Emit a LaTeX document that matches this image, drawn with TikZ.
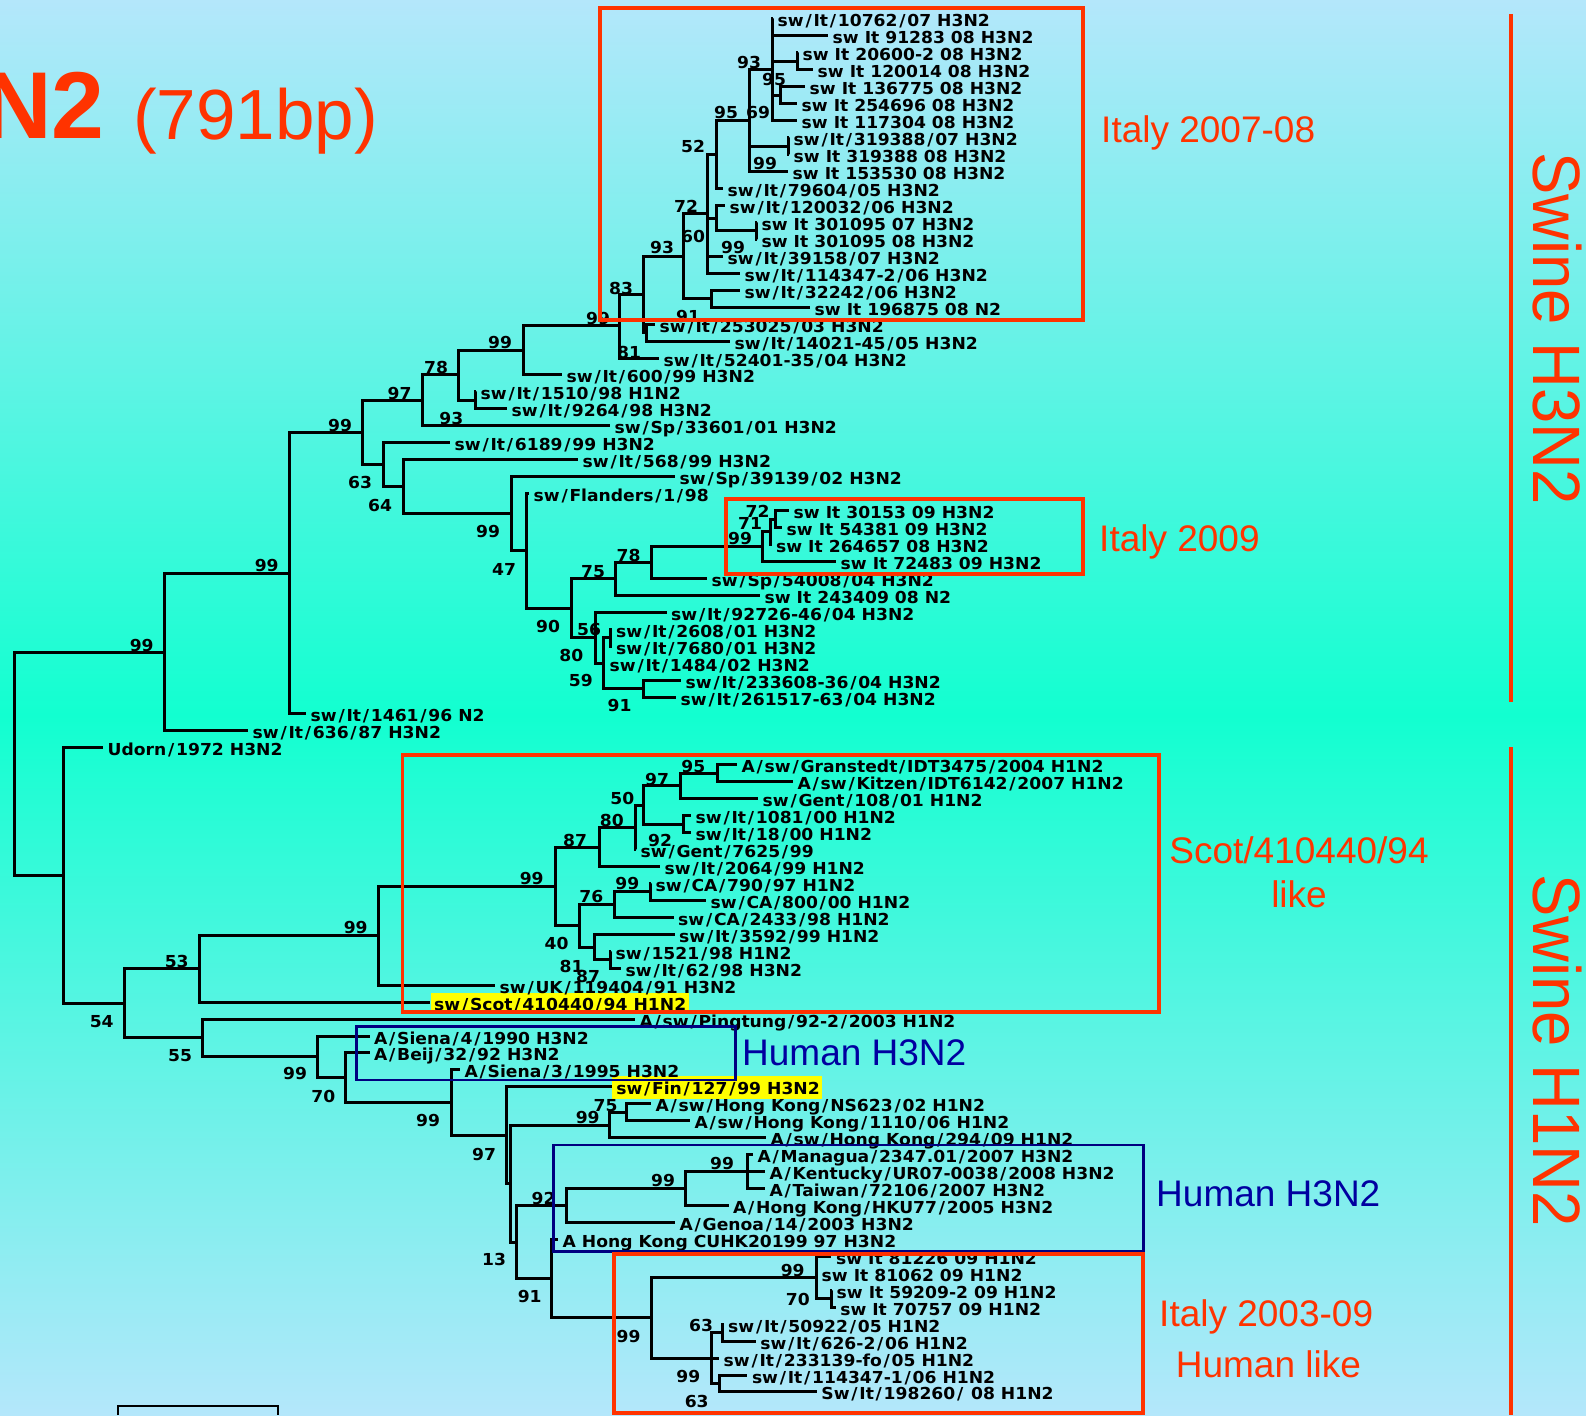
\documentclass[tikz,border=0pt]{standalone}
\usepackage{fontspec}
\setmainfont{Liberation Sans}
\newfontfamily\lfont[FakeStretch=1.04]{DejaVu Sans}
\newfontfamily\swfont[FakeStretch=0.946]{Liberation Sans}
\definecolor{bgtop}{RGB}{180,231,251}
\definecolor{bgmid}{RGB}{18,255,208}
\definecolor{myred}{RGB}{255,51,0}
\definecolor{myblue}{RGB}{0,0,160}
\definecolor{boxblue}{RGB}{0,0,128}
\definecolor{hlyellow}{RGB}{255,255,0}
\ExplSyntaxOn
\tl_new:N \l_my_lab_tl
\NewDocumentCommand{\slfix}{m}{
  \tl_set:Nn \l_my_lab_tl {#1}
  \tl_replace_all:Nnn \l_my_lab_tl {/} {\kern1.75pt\relax/\kern1.75pt\relax}
  \tl_use:N \l_my_lab_tl
}
\ExplSyntaxOff
\tikzset{
  br/.style={line width=3pt, black},
  lf/.style={anchor=base west, inner sep=0pt, xshift=4.5pt, yshift=-8pt, font=\lfont\bfseries\fontsize{16.5}{18}\selectfont},
  bs/.style={anchor=base, inner sep=0pt, yshift=-6pt, font=\lfont\bfseries\fontsize{16.5}{18}\selectfont},
  redbox/.style={draw=myred, line width=3.2pt},
  bluebox/.style={draw=boxblue, line width=2.7pt},
  grp/.style={text=myred, inner sep=0pt, font=\fontsize{37}{40}\selectfont},
  grpb/.style={text=myblue, inner sep=0pt, font=\fontsize{37}{40}\selectfont},
  swlab/.style={text=myred, inner sep=0pt, rotate=-90, anchor=base west, font=\swfont\fontsize{67}{70}\selectfont},
  hl/.style={fill=hlyellow},
}
\newcommand{\lv}[3]{\coordinate (t#1) at (#2,#1); \node[lf] (n#1) at (t#1) {\slfix{#3}};}
\begin{document}
\begin{tikzpicture}[x=1pt,y=-1pt]
\useasboundingbox (0,0) rectangle (1586,1415);
\shade[top color=bgtop, bottom color=bgmid] (0,0) rectangle (1586,715);
\shade[top color=bgmid, bottom color=bgtop] (0,715) rectangle (1586,1415);

% title
\node[text=myred, inner sep=0pt, anchor=base east, font=\bfseries\fontsize{95}{100}\selectfont] (title1) at (105,138.3) {N2};
\node[text=myred, inner sep=0pt, anchor=base west, font=\fontsize{71}{74}\selectfont] (title2) at (133,139.3) {(791bp)};

% highlight boxes
\fill[hl] (431,992.7) rectangle (688.7,1010.7);
\fill[hl] (612,1076) rectangle (822,1099.3);

\begin{scope}[y=-16.95pt, yshift=-2.05pt]
% internal nodes
\foreach \n/\x/\y in {A/772/4, A34/797/3.5, A56/780/5.5, B89/788/8.5, B/749/7, C/716/9,
  E1314/756/13.5, E/716/12.75, D/707/12.5, G/711/17.5, F/683/15, H2/646/19.5, H/643/17.25,
  I/619/19.1, J/523/20.55, K2/475/23.5, K/458/22, L/422/23.5, X/775.5/30.5, W/770/31.25,
  V/762/32.1, U/651/33.05, S/615/34, T3/610.6/37.5, T4/643/40.5, T2/603/39, T/595/37.5,
  R/571/35.75, Q/526/32.375, P/511/30.19, O/403/28.6, N/383/27.3, M/362/25.4, Y/289/33.7,
  Z/164/38.35, MM/717/45.5, KK/680/46.25, LL/683.5/48.5, JJ/643.7/47.375, II/635.2/48.69,
  GG/599/49.85, PP/650/52.5, NN/614/53.25, QQ/610.3/56.5, OO/594/55.75, HH/579/54.5,
  FF/555/52.17, EE/378.3/55.09, CC/199/57.04, XX/626/65.5, WW/609.6/66.25, HU3/747.8/69,
  HU2/685.8/70, HU/566.2/71, IT3/831.4/76.5, IT1/816/75.25, IT4/722.8/78.5, IT5/719/81.5,
  IT2/711.5/80, IT/651.7/77.62, ZZ/551.5/75.3, YY/516/73.17, VV/510/69.7, UU/506/66.84,
  TT/451/64.92, SS/345/63.44, RR/317.3/62.22, DD/202.3/61.11, BB/124.3/59.07, AA/63.3/51.53,
  root/14/44.94}
  \coordinate (\n) at (\x,\y);
% leaves
\lv{1}{773}{sw/It/10762/07 H3N2}
\lv{2}{828}{sw It 91283 08 H3N2}
\lv{3}{798}{sw It 20600-2 08 H3N2}
\lv{4}{813}{sw It 120014 08 H3N2}
\lv{5}{805}{sw It 136775 08 H3N2}
\lv{6}{797}{sw It 254696 08 H3N2}
\lv{7}{797}{sw It 117304 08 H3N2}
\lv{8}{789}{sw/It/319388/07 H3N2}
\lv{9}{789}{sw It 319388 08 H3N2}
\lv{10}{788}{sw It 153530 08 H3N2}
\lv{11}{723}{sw/It/79604/05 H3N2}
\lv{12}{725}{sw/It/120032/06 H3N2}
\lv{13}{757}{sw It 301095 07 H3N2}
\lv{14}{757}{sw It 301095 08 H3N2}
\lv{15}{723}{sw/It/39158/07 H3N2}
\lv{16}{740}{sw/It/114347-2/06 H3N2}
\lv{17}{740}{sw/It/32242/06 H3N2}
\lv{18}{810}{sw It 196875 08 N2}
\lv{19}{655}{sw/It/253025/03 H3N2}
\lv{20}{730}{sw/It/14021-45/05 H3N2}
\lv{21}{659}{sw/It/52401-35/04 H3N2}
\lv{22}{562}{sw/It/600/99 H3N2}
\lv{23}{476}{sw/It/1510/98 H1N2}
\lv{24}{507}{sw/It/9264/98 H3N2}
\lv{25}{610}{sw/Sp/33601/01 H3N2}
\lv{26}{450}{sw/It/6189/99 H3N2}
\lv{27}{578}{sw/It/568/99 H3N2}
\lv{28}{675}{sw/Sp/39139/02 H3N2}
\lv{29}{529}{sw/Flanders/1/98}
\lv{30}{789}{sw It 30153 09 H3N2}
\lv{31}{782}{sw It 54381 09 H3N2}
\lv{32}{771.5}{sw It 264657 08 H3N2}
\lv{33}{836}{sw It 72483 09 H3N2}
\lv{34}{707}{sw/Sp/54008/04 H3N2}
\lv{35}{760}{sw It 243409 08 N2}
\lv{36}{666.5}{sw/It/92726-46/04 H3N2}
\lv{37}{611.5}{sw/It/2608/01 H3N2}
\lv{38}{611.5}{sw/It/7680/01 H3N2}
\lv{39}{605}{sw/It/1484/02 H3N2}
\lv{40}{681}{sw/It/233608-36/04 H3N2}
\lv{41}{676}{sw/It/261517-63/04 H3N2}
\lv{42}{306}{sw/It/1461/96 N2}
\lv{43}{248}{sw/It/636/87 H3N2}
\lv{44}{103}{Udorn/1972 H3N2}
\lv{45}{737}{A/sw/Granstedt/IDT3475/2004 H1N2}
\lv{46}{793}{A/sw/Kitzen/IDT6142/2007 H1N2}
\lv{47}{758}{sw/Gent/108/01 H1N2}
\lv{48}{691}{sw/It/1081/00 H1N2}
\lv{49}{691}{sw/It/18/00 H1N2}
\lv{50}{636}{sw/Gent/7625/99}
\lv{51}{660}{sw/It/2064/99 H1N2}
\lv{52}{651}{sw/CA/790/97 H1N2}
\lv{53}{706}{sw/CA/800/00 H1N2}
\lv{54}{673.5}{sw/CA/2433/98 H1N2}
\lv{55}{674.5}{sw/It/3592/99 H1N2}
\lv{56}{611}{sw/1521/98 H1N2}
\lv{57}{621}{sw/It/62/98 H3N2}
\lv{58}{495}{sw/UK/119404/91 H3N2}
\lv{59}{429.5}{sw/Scot/410440/94 H1N2}
\lv{60}{635}{A/sw/Pingtung/92-2/2003 H1N2}
\lv{61}{369.5}{A/Siena/4/1990 H3N2}
\lv{62}{369.5}{A/Beij/32/92 H3N2}
\lv{63}{460}{A/Siena/3/1995 H3N2}
\lv{64}{611.6}{sw/Fin/127/99 H3N2}
\lv{65}{651}{A/sw/Hong Kong/NS623/02 H1N2}
\lv{66}{690}{A/sw/Hong Kong/1110/06 H1N2}
\lv{67}{766}{A/sw/Hong Kong/294/09 H1N2}
\lv{68}{753}{A/Managua/2347.01/2007 H3N2}
\lv{69}{765}{A/Kentucky/UR07-0038/2008 H3N2}
\lv{70}{765}{A/Taiwan/72106/2007 H3N2}
\lv{71}{728.5}{A/Hong Kong/HKU77/2005 H3N2}
\lv{72}{675}{A/Genoa/14/2003 H3N2}
\lv{73}{558}{A Hong Kong CUHK20199 97 H3N2}
\lv{74}{831.4}{sw It 81226 09 H1N2}
\lv{75}{817}{sw It 81062 09 H1N2}
\lv{76}{832}{sw It 59209-2 09 H1N2}
\lv{77}{835.6}{sw It 70757 09 H1N2}
\lv{78}{723.5}{sw/It/50922/05 H1N2}
\lv{79}{755.7}{sw/It/626-2/06 H1N2}
\lv{80}{719}{sw/It/233139-fo/05 H1N2}
\lv{81}{747.3}{sw/It/114347-1/06 H1N2}
\lv{82}{816.7}{Sw/It/198260/ 08 H1N2}
% branches
\foreach \p/\c in {A/t1, A/t2, A/A34, A/A56, A/t7, A34/t3, A34/t4, A56/t5, A56/t6,
  B89/t8, B89/t9, B/A, B/B89, B/t10, C/B, C/t11, E1314/t13, E1314/t14, E/t12, E/E1314,
  D/C, D/E, D/t15, D/t16, G/t17, G/t18, F/D, F/G, H2/t19, H2/t20, H/F, H/H2, I/H, I/t21,
  J/I, J/t22, K2/t23, K2/t24, K/J, K/K2, L/K, L/t25, M/L, M/N, N/t26, N/O, O/t27, O/P,
  P/t28, P/Q, Q/t29, Q/R, R/S, R/T, S/U, S/t35, U/V, U/t34, V/W, V/t33, W/X, W/t32,
  X/t30, X/t31, T/t36, T/T2, T2/T3, T2/t39, T2/T4, T3/t37, T3/t38, T4/t40, T4/t41,
  Y/M, Y/t42, Z/Y, Z/t43, root/Z, root/AA, AA/t44, AA/BB, BB/CC, BB/DD, CC/EE, CC/t59,
  EE/FF, EE/t58, FF/GG, FF/HH, GG/II, GG/t51, II/JJ, II/t50, JJ/KK, JJ/LL, KK/MM, KK/t47,
  MM/t45, MM/t46, LL/t48, LL/t49, HH/NN, HH/OO, NN/PP, NN/t54, PP/t52, PP/t53, OO/t55,
  OO/QQ, QQ/t56, QQ/t57, DD/t60, DD/RR, RR/t61, RR/SS, SS/t62, SS/TT, TT/t63, TT/UU,
  UU/t64, UU/VV, VV/WW, VV/YY, WW/XX, WW/t67, XX/t65, XX/t66, YY/HU, YY/ZZ, HU/HU2,
  HU/t72, HU2/HU3, HU2/t71, HU3/t68, HU3/t69, HU3/t70, ZZ/t73, ZZ/IT, IT/IT1, IT/IT2,
  IT1/t74, IT1/t75, IT1/IT3, IT3/t76, IT3/t77, IT2/IT4, IT2/t80, IT2/IT5, IT4/t78,
  IT4/t79, IT5/t81, IT5/t82}
  \draw[br] (\p) |- (\c);
\end{scope}

% bootstrap values
\foreach \x/\y/\v [count=\k] in {749/63/93, 774/80/95, 726/113/95, 758/113/69, 693/147/52,
  765/164/99, 686/207/72, 693/237/60, 733/248/99, 662/248/93, 621/288/83, 688/316/91,
  598/318/99, 629/352/81, 500/342/99, 436/367/78, 399.6/393/97, 451.4/418.3/93,
  340/425/99, 360/482.5/63, 380/505/64, 488/531.7/99, 504/569/47, 757.6/511.7/72,
  750/523.3/71, 740/538.3/99, 628.6/555/78, 593/571.7/75, 548/626.7/90, 589/629.3/56,
  571.4/655/80, 580.8/680.7/59, 619.6/705/91, 266.7/565/99, 141.7/645/99, 693.4/766/95,
  657/779.3/97, 622.3/798.3/50, 611.8/820/80, 660/840/92, 575/840/87, 531.7/878.3/99,
  627.3/883.3/99, 591.4/896.7/76, 556.6/943.3/40, 571.5/966/81, 588/976.7/87,
  355.7/927.3/99, 176.7/961/53, 101.7/1021.7/54, 180/1055/55, 295/1073.3/99,
  323.3/1096/70, 428/1120/99, 484/1154/97, 605.5/1105/75, 587.7/1117.3/99,
  722/1163.3/99, 663/1180.7/99, 543.5/1198.3/92, 494/1259/13, 529.7/1296.7/91,
  792.7/1270/99, 797.8/1299.3/70, 628.6/1336/99, 701/1325/63, 688.3/1376/99,
  696.7/1401.7/63}
  \node[bs] (bs\k) at (\x,\y) {\v};

% group boxes
\draw[redbox] (600,8) rectangle (1083,320);
\draw[redbox] (726,499) rectangle (1083,574);
\draw[redbox] (402.5,755) rectangle (1159,1012);
\draw[bluebox] (356.5,1026.7) rectangle (735.6,1080);
\draw[bluebox] (553.3,1145) rectangle (1143.3,1251.7);
\draw[redbox] (614,1254) rectangle (1143,1413);

% group labels
\node[grp, anchor=base west] (g1) at (1101,142.5) {Italy 2007-08};
\node[grp, anchor=base west] (g2) at (1099,551) {Italy 2009};
\node[grp, anchor=base] (g3) at (1299,863) {Scot/410440/94};
\node[grp, anchor=base] (g3b) at (1299,907) {like};
\node[grpb, anchor=base west] (g4) at (742,1065) {Human H3N2};
\node[grpb, anchor=base west] (g5) at (1156,1206.8) {Human H3N2};
\node[grp, anchor=base west] (g6) at (1159,1326) {Italy 2003-09};
\node[grp, anchor=base] (g6b) at (1268.4,1377.5) {Human like};

% swine brackets
\draw[myred, line width=3.2pt] (1511,14) -- (1511,702);
\draw[myred, line width=3.2pt] (1511,747) -- (1511,1415);
\node[swlab] (sw1) at (1533,152) {Swine H3N2};
\node[swlab] (sw2) at (1533,874) {Swine H1N2};

% scale bar
\coordinate (sb1) at (118,1406);
\coordinate (sb2) at (278,1406);
\draw[line width=2.6pt] (118,1415) -- (sb1) -- (sb2) -- (278,1415);
\end{tikzpicture}
\end{document}
